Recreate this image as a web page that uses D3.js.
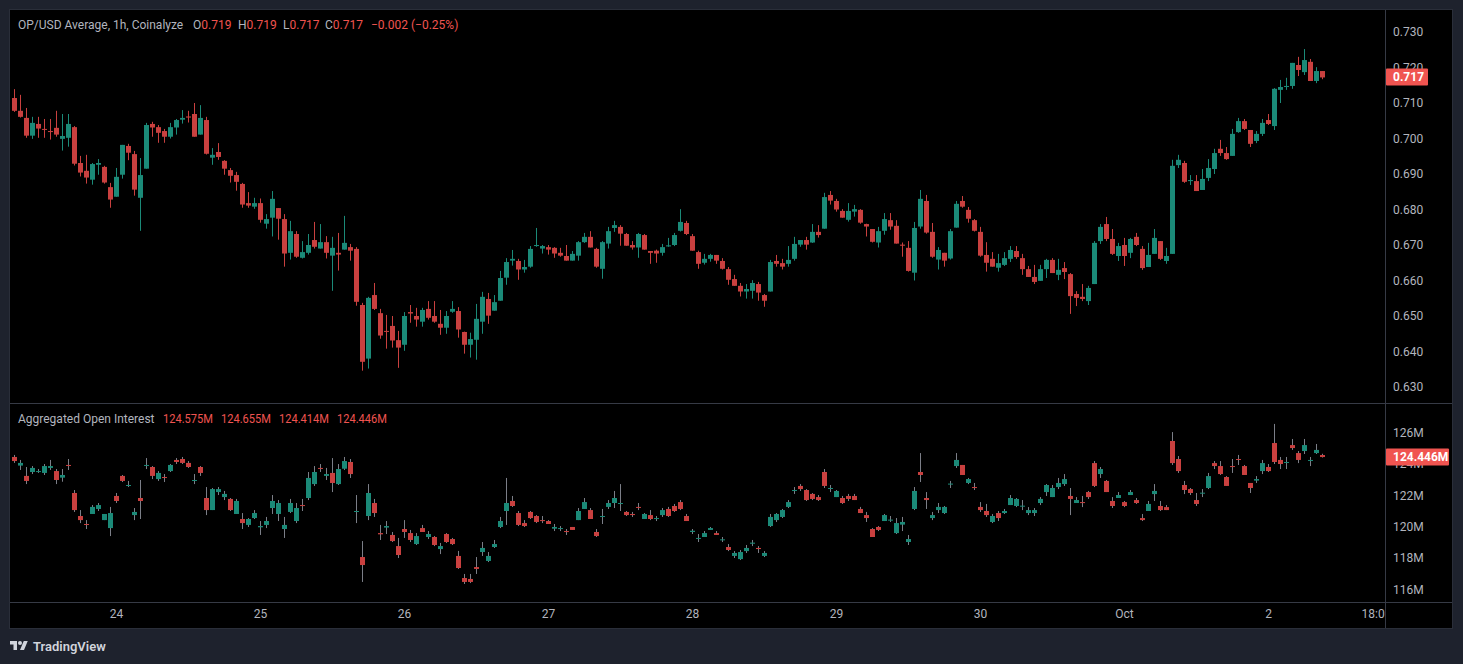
<!DOCTYPE html>
<html>
<head>
<meta charset="utf-8">
<script src="https://cdn.jsdelivr.net/npm/d3@7"></script>
<style>
  html, body { margin: 0; padding: 0; background: #1e222d; overflow: hidden; }
  svg { display: block; font-family: Roboto, "Noto Sans", sans-serif; }
</style>
</head>
<body>
<svg id="chart"></svg>
<script>
// OP/USD hourly candles [open, high, low, close], from Sep 23 07:00
const priceBars = [
  [.7114,.7139,.7075,.7078],[.7078,.7123,.7059,.7061],[.7058,.7086,.7002,.7008],[.7008,.7061,.6999,.7044],
  [.7041,.7061,.7002,.7028],[.7027,.7055,.7002,.7025],[.7021,.7055,.6997,.7019],[.7030,.7078,.7005,.7011],
  [.6999,.7069,.6966,.7007],[.7002,.7069,.6977,.7041],[.7032,.7035,.6924,.6929],[.6931,.6951,.6893,.6904],
  [.6909,.6954,.6873,.6890],[.6884,.6931,.6870,.6928],[.6926,.6942,.6898,.6931],[.6920,.6923,.6873,.6876],
  [.6863,.6875,.6805,.6828],[.6836,.6917,.6836,.6892],[.6898,.6982,.6887,.6982],[.6979,.6985,.6939,.6960],
  [.6956,.6965,.6839,.6856],[.6833,.6945,.6740,.6897],[.6915,.7044,.6915,.7038],[.7041,.7047,.7005,.7031],
  [.7032,.7038,.6988,.7016],[.7021,.7027,.6988,.7005],[.7005,.7044,.7000,.7032],[.7031,.7055,.7011,.7052],
  [.7053,.7080,.7042,.7058],[.7062,.7078,.7045,.7059],[.7069,.7100,.7005,.7005],[.7011,.7094,.7011,.7058],
  [.7052,.7061,.6955,.6957],[.6946,.6973,.6926,.6954],[.6962,.6987,.6940,.6948],[.6937,.6939,.6898,.6915],
  [.6911,.6917,.6876,.6895],[.6897,.6906,.6853,.6878],[.6872,.6875,.6805,.6814],[.6818,.6849,.6805,.6811],
  [.6808,.6833,.6802,.6818],[.6818,.6831,.6763,.6771],[.6760,.6787,.6746,.6773],[.6777,.6852,.6724,.6830],
  [.6804,.6804,.6715,.6774],[.6773,.6787,.6639,.6676],[.6678,.6768,.6659,.6739],[.6731,.6739,.6664,.6667],
  [.6664,.6711,.6662,.6680],[.6678,.6731,.6673,.6700],[.6714,.6765,.6690,.6695],[.6690,.6759,.6690,.6708],
  [.6708,.6725,.6662,.6678],[.6670,.6723,.6571,.6692],[.6678,.6734,.6628,.6673],[.6687,.6782,.6687,.6706],
  [.6694,.6703,.6656,.6684],[.6689,.6694,.6529,.6540],[.6531,.6537,.6346,.6371],[.6380,.6554,.6352,.6551],
  [.6559,.6593,.6517,.6520],[.6508,.6520,.6436,.6445],[.6458,.6503,.6408,.6456],[.6472,.6500,.6411,.6431],
  [.6432,.6458,.6354,.6411],[.6419,.6511,.6402,.6500],[.6511,.6531,.6481,.6507],[.6500,.6523,.6470,.6490],
  [.6484,.6523,.6470,.6517],[.6520,.6542,.6490,.6495],[.6500,.6542,.6481,.6484],[.6478,.6517,.6447,.6467],
  [.6467,.6514,.6450,.6500],[.6512,.6542,.6509,.6520],[.6514,.6525,.6439,.6462],[.6455,.6456,.6394,.6419],
  [.6419,.6453,.6383,.6435],[.6433,.6534,.6377,.6492],[.6484,.6568,.6450,.6554],[.6548,.6565,.6478,.6501],
  [.6515,.6559,.6515,.6539],[.6543,.6627,.6543,.6607],[.6608,.6663,.6588,.6652],[.6656,.6686,.6642,.6661],
  [.6655,.6661,.6602,.6631],[.6631,.6658,.6622,.6638],[.6639,.6697,.6636,.6689],[.6697,.6748,.6695,.6700],
  [.6690,.6700,.6676,.6697],[.6694,.6700,.6673,.6687],[.6692,.6694,.6664,.6676],[.6678,.6692,.6667,.6670],
  [.6669,.6700,.6656,.6656],[.6656,.6683,.6656,.6675],[.6670,.6711,.6656,.6708],[.6708,.6734,.6706,.6723],
  [.6723,.6739,.6693,.6693],[.6689,.6692,.6636,.6639],[.6633,.6711,.6605,.6708],[.6704,.6751,.6690,.6739],
  [.6748,.6768,.6737,.6756],[.6751,.6756,.6698,.6732],[.6731,.6734,.6698,.6698],[.6700,.6711,.6687,.6693],
  [.6693,.6734,.6664,.6731],[.6728,.6731,.6687,.6687],[.6683,.6683,.6647,.6678],[.6684,.6687,.6650,.6676],
  [.6678,.6703,.6670,.6694],[.6696,.6720,.6695,.6699],[.6700,.6734,.6697,.6728],[.6740,.6801,.6738,.6765],
  [.6762,.6768,.6728,.6731],[.6725,.6731,.6684,.6684],[.6680,.6684,.6633,.6647],[.6650,.6675,.6645,.6661],
  [.6661,.6675,.6653,.6672],[.6672,.6672,.6647,.6656],[.6655,.6663,.6631,.6633],[.6632,.6638,.6588,.6602],
  [.6604,.6616,.6585,.6585],[.6585,.6593,.6555,.6569],[.6569,.6590,.6549,.6576],[.6571,.6601,.6549,.6593],
  [.6590,.6596,.6543,.6566],[.6559,.6562,.6526,.6543],[.6569,.6658,.6569,.6652],[.6655,.6672,.6639,.6647],
  [.6649,.6661,.6631,.6639],[.6647,.6697,.6639,.6658],[.6661,.6723,.6656,.6703],[.6701,.6714,.6695,.6714],
  [.6714,.6723,.6687,.6701],[.6707,.6759,.6706,.6737],[.6737,.6756,.6721,.6728],[.6746,.6847,.6746,.6835],
  [.6841,.6852,.6814,.6825],[.6824,.6830,.6794,.6800],[.6796,.6801,.6777,.6777],[.6771,.6818,.6766,.6796],
  [.6794,.6813,.6780,.6801],[.6799,.6801,.6760,.6763],[.6759,.6760,.6724,.6752],[.6745,.6745,.6707,.6709],
  [.6707,.6751,.6693,.6739],[.6740,.6790,.6729,.6773],[.6770,.6790,.6743,.6752],[.6754,.6770,.6704,.6704],
  [.6701,.6707,.6667,.6698],[.6692,.6711,.6625,.6627],[.6622,.6765,.6600,.6748],[.6752,.6855,.6746,.6830],
  [.6824,.6841,.6732,.6735],[.6737,.6762,.6664,.6667],[.6659,.6694,.6631,.6686],[.6678,.6678,.6639,.6656],
  [.6662,.6745,.6659,.6739],[.6749,.6824,.6749,.6816],[.6824,.6838,.6805,.6808],[.6799,.6807,.6763,.6774],
  [.6770,.6773,.6738,.6740],[.6737,.6751,.6667,.6670],[.6672,.6708,.6625,.6650],[.6661,.6680,.6639,.6639],
  [.6636,.6675,.6625,.6649],[.6644,.6680,.6641,.6663],[.6661,.6697,.6652,.6686],[.6683,.6697,.6661,.6666],
  [.6663,.6675,.6616,.6632],[.6632,.6641,.6610,.6610],[.6610,.6644,.6590,.6596],[.6599,.6644,.6599,.6632],
  [.6632,.6661,.6607,.6658],[.6658,.6663,.6621,.6621],[.6616,.6661,.6601,.6630],[.6635,.6652,.6604,.6624],
  [.6618,.6621,.6506,.6556],[.6562,.6570,.6528,.6551],[.6554,.6590,.6542,.6548],[.6542,.6585,.6531,.6579],
  [.6590,.6711,.6590,.6706],[.6711,.6759,.6703,.6751],[.6759,.6779,.6711,.6717],[.6717,.6745,.6672,.6675],
  [.6669,.6706,.6655,.6697],[.6700,.6720,.6641,.6669],[.6678,.6720,.6663,.6717],[.6723,.6734,.6697,.6700],
  [.6689,.6697,.6630,.6635],[.6638,.6706,.6638,.6672],[.6675,.6745,.6675,.6720],[.6711,.6711,.6658,.6661],
  [.6655,.6692,.6647,.6669],[.6675,.6940,.6675,.6923],[.6925,.6954,.6917,.6940],[.6931,.6937,.6875,.6878],
  [.6880,.6897,.6869,.6883],[.6880,.6897,.6852,.6852],[.6855,.6914,.6855,.6886],[.6889,.6942,.6880,.6917],
  [.6914,.6971,.6900,.6959],[.6971,.6996,.6951,.6959],[.6959,.6976,.6940,.6942],[.6951,.7027,.6951,.7013],
  [.7018,.7058,.7016,.7049],[.7049,.7055,.7024,.7027],[.7024,.7024,.6976,.6985],[.6993,.7021,.6987,.7013],
  [.7013,.7055,.7007,.7044],[.7052,.7069,.7038,.7041],[.7035,.7142,.7024,.7140],[.7137,.7165,.7100,.7145],
  [.7145,.7171,.7137,.7148],[.7148,.7213,.7140,.7213],[.7207,.7230,.7176,.7193],[.7187,.7252,.7179,.7221],
  [.7216,.7224,.7162,.7162],[.7162,.7201,.7156,.7190],[.7190,.7190,.7167,.7172]
];

// Aggregated open interest candles in millions [open, high, low, close]
const oiBars = [
  [124.45,124.58,124.07,124.19],[123.90,124.26,123.62,124.07],[123.24,123.81,122.72,122.92],[123.49,123.87,123.36,123.75],
  [123.49,123.68,123.43,123.55],[123.43,124.00,123.30,123.87],[123.75,124.26,123.62,123.87],[123.55,123.68,122.72,122.98],
  [123.13,123.68,122.87,123.30],[123.94,124.32,123.62,123.90],[122.15,122.34,120.94,121.06],[120.68,121.06,120.23,120.42],
  [120.17,120.42,119.85,120.13],[120.81,121.38,120.81,121.26],[121.13,121.51,121.00,121.38],[120.42,120.81,120.42,120.81],
  [119.91,121.26,119.40,120.87],[121.96,122.15,121.51,121.64],[123.24,123.30,122.85,122.92],[122.62,122.92,122.53,122.66],
  [120.74,121.19,120.42,120.94],[121.83,122.98,120.49,121.64],[123.90,124.38,123.68,123.94],[123.81,123.87,123.04,123.24],
  [123.04,123.55,122.92,123.43],[123.17,123.36,122.85,123.13],[123.55,124.00,123.49,123.94],[124.26,124.38,124.00,124.13],
  [124.32,124.45,124.00,124.07],[124.07,124.19,123.75,123.81],[122.94,123.36,122.72,122.98],[123.81,123.87,123.24,123.43],
  [121.83,122.53,120.74,121.06],[121.06,122.47,121.06,122.40],[122.21,122.53,122.02,122.40],[121.89,122.28,121.70,122.09],
  [121.77,121.83,121.00,121.06],[120.81,121.77,120.81,121.64],[120.49,120.87,119.85,120.23],[120.11,120.55,119.98,120.49],
  [120.55,121.06,120.49,120.87],[119.96,120.36,119.47,120.04],[120.11,120.62,119.91,120.36],[121.19,122.02,120.81,121.64],
  [120.81,121.70,120.36,121.51],[119.85,120.62,119.28,120.11],[120.94,121.77,120.87,121.51],[120.36,121.51,120.23,121.19],
  [121.38,121.77,121.00,121.34],[121.83,123.49,121.70,123.11],[122.72,123.87,122.60,123.49],[123.75,124.00,123.49,123.70],
  [123.24,123.75,122.98,123.36],[123.43,124.38,122.21,122.79],[122.72,124.00,122.66,123.68],[123.70,124.45,123.62,124.19],
  [124.13,124.32,123.11,123.36],[120.96,122.02,120.23,121.00],[118.06,119.08,116.47,117.55],[120.68,122.72,120.42,122.15],
  [121.51,121.77,120.62,120.87],[119.59,120.11,119.15,119.51],[119.94,120.36,119.53,120.04],[119.47,119.66,119.02,119.08],
  [118.76,119.28,118.00,118.19],[119.85,120.42,119.28,119.66],[119.59,119.79,119.02,119.15],[118.89,119.59,118.83,119.40],
  [119.91,120.11,119.66,119.66],[119.34,119.72,119.21,119.53],[119.34,119.40,118.76,118.83],[118.57,118.96,118.25,118.76],
  [119.53,119.59,118.96,119.02],[119.21,119.28,118.83,118.89],[118.13,118.45,117.30,117.36],[116.72,116.98,116.34,116.47],
  [116.66,116.98,116.40,116.47],[117.42,118.06,116.98,117.30],[118.38,119.02,118.13,118.64],[117.81,118.38,117.74,118.13],
  [118.70,119.15,118.64,118.89],[119.98,120.62,119.91,120.36],[121.00,123.11,120.11,121.51],[121.64,121.96,121.26,121.32],
  [120.87,121.00,120.04,120.11],[120.23,120.42,119.98,120.04],[120.94,121.00,120.49,120.55],[120.68,120.74,120.23,120.30],
  [120.42,120.68,120.23,120.36],[120.36,120.42,120.17,120.17],[119.87,120.17,119.72,119.98],[119.85,120.04,119.72,119.91],
  [119.72,119.85,119.47,119.66],[119.98,119.98,119.79,119.79],[120.42,121.19,120.42,121.00],[121.13,121.83,121.13,121.57],
  [121.06,121.19,120.49,120.49],[119.66,119.85,119.34,119.40],[120.64,121.13,120.17,120.68],[121.26,121.70,121.13,121.51],
  [121.51,122.28,121.19,121.83],[121.47,122.72,121.00,121.51],[120.94,121.00,120.68,120.74],[120.81,120.94,120.62,120.74],
  [121.26,121.51,121.06,121.21],[120.49,120.87,120.49,120.81],[120.74,121.06,120.42,120.49],[120.49,120.68,120.36,120.55],
  [120.74,121.19,120.62,121.06],[121.13,121.26,120.62,120.68],[121.32,121.45,120.94,121.00],[121.57,121.70,121.06,121.13],
  [120.68,120.81,120.36,120.36],[119.66,119.85,119.53,119.74],[119.23,119.53,119.02,119.28],[119.34,119.72,119.34,119.59],
  [119.79,119.98,119.79,119.91],[119.59,119.72,119.47,119.47],[119.15,119.34,119.02,119.19],[118.70,118.89,118.44,118.51],
  [118.13,118.44,118.00,118.32],[117.93,118.51,117.87,118.38],[118.44,118.83,118.32,118.64],[118.91,119.15,118.76,118.98],
  [118.64,118.76,118.32,118.57],[118.13,118.44,118.06,118.32],[120.04,120.81,119.98,120.62],[120.42,120.87,120.30,120.81],
  [120.62,121.13,120.55,121.06],[121.26,121.70,121.19,121.57],[122.30,122.53,122.09,122.34],[122.60,122.72,122.28,122.40],
  [122.34,122.40,121.64,121.70],[122.09,122.15,121.70,121.77],[121.89,122.02,121.64,121.70],[123.49,123.68,122.47,122.60],
  [122.43,122.66,122.21,122.47],[121.89,122.34,121.89,122.28],[121.83,121.96,121.45,121.51],[121.96,122.09,121.64,121.77],
  [121.96,122.09,121.70,121.70],[121.13,121.26,120.87,120.87],[120.74,120.94,120.30,120.55],[119.85,119.91,119.34,119.34],
  [119.98,120.04,119.72,119.79],[120.36,120.81,120.36,120.74],[120.40,120.68,120.30,120.45],[119.59,120.55,119.53,120.23],
  [120.13,120.62,119.72,120.30],[119.02,119.47,118.83,119.21],[121.13,122.53,121.06,122.28],[123.49,124.70,122.85,123.30],
  [121.83,122.21,121.13,121.70],[120.55,120.94,120.42,120.74],[121.06,121.51,120.87,121.26],[120.87,121.32,120.81,121.26],
  [122.70,122.92,122.47,122.75],[123.87,124.70,123.75,124.26],[123.94,123.94,123.30,123.30],[122.79,123.11,122.72,123.04],
  [122.53,122.79,122.34,122.47],[121.26,121.57,120.94,121.06],[121.00,121.45,120.62,120.74],[120.30,120.81,120.23,120.68],
  [120.87,121.00,120.36,120.55],[120.87,121.13,120.81,121.00],[121.38,122.02,121.38,121.83],[121.32,121.83,121.25,121.77],
  [121.30,121.70,121.06,121.34],[120.87,121.25,120.74,121.06],[120.87,121.19,120.68,121.06],[121.51,121.89,121.38,121.77],
  [122.21,122.72,121.96,122.66],[121.89,122.66,121.89,122.47],[122.53,123.11,122.40,122.79],[122.72,123.36,122.60,123.04],
  [121.96,122.47,120.74,121.77],[121.51,121.89,121.51,121.70],[121.57,121.96,121.25,121.53],[122.21,122.28,121.77,121.89],
  [124.06,124.19,122.53,122.60],[123.36,123.81,123.11,123.68],[122.92,122.98,122.21,122.21],[121.64,121.89,121.19,121.32],
  [121.83,122.21,121.83,122.02],[121.57,121.64,121.25,121.32],[122.02,122.34,122.02,122.21],[121.70,121.83,121.45,121.51],
  [120.55,120.81,120.36,120.42],[121.00,121.64,121.00,121.45],[122.08,122.72,121.64,122.28],[121.32,121.64,121.00,121.06],
  [121.25,121.38,121.06,121.06],[125.47,126.04,123.94,124.06],[124.32,124.51,123.43,123.55],[122.66,122.92,122.08,122.34],
  [122.40,122.47,122.02,122.15],[121.70,122.15,121.32,121.45],[122.11,122.40,121.89,122.17],[122.47,123.43,122.40,123.23],
  [124.06,124.19,123.68,123.87],[123.87,124.19,123.30,123.36],[123.17,123.23,122.60,122.60],[123.87,124.32,123.43,123.81],
  [124.32,124.58,123.94,124.26],[123.87,123.94,123.30,123.30],[122.79,122.79,122.15,122.47],[122.94,123.23,122.79,123.04],
  [123.55,124.26,123.36,124.06],[123.81,124.00,123.49,123.55],[125.34,126.56,124.00,124.13],[124.26,124.45,123.68,124.00],
  [124.09,124.45,123.68,124.13],[125.21,125.60,124.90,125.02],[124.70,124.83,124.06,124.26],[124.83,125.60,124.64,125.21],
  [124.21,124.45,123.87,124.26],[124.70,125.28,124.64,124.90],[124.575,124.655,124.414,124.446]
];

const priceTicks = [0.63, 0.64, 0.65, 0.66, 0.67, 0.68, 0.69, 0.70, 0.71, 0.72, 0.73];
const oiTicks = [116, 118, 120, 122, 124, 126];
const timeTicks = [
  Date.UTC(2022, 8, 24), Date.UTC(2022, 8, 25), Date.UTC(2022, 8, 26), Date.UTC(2022, 8, 27),
  Date.UTC(2022, 8, 28), Date.UTC(2022, 8, 29), Date.UTC(2022, 8, 30), Date.UTC(2022, 9, 1),
  Date.UTC(2022, 9, 2), Date.UTC(2022, 9, 2, 18)
];
const firstBarTime = Date.UTC(2022, 8, 23, 7);

const upColor = "#1b8a78", downColor = "#c9403f", tagColor = "#f05450";
const textColor = "#b2b5be", lineColor = "#363a45";

const W = 1463, H = 664;
const frame = { left: 10, top: 10, right: 1452, bottom: 628 };
const axisX = 1385, paneSplit = 403, timeAxisY = 602;

const svg = d3.select("#chart").attr("width", W).attr("height", H);

// frame background
svg.append("rect").attr("width", W).attr("height", H).attr("fill", "#1e222d");
svg.append("rect")
  .attr("x", frame.left - 0.5).attr("y", frame.top - 0.5)
  .attr("width", frame.right - frame.left + 1).attr("height", frame.bottom - frame.top + 1)
  .attr("fill", "#000").attr("stroke", "#2a2e39");

const defs = svg.append("defs");
defs.append("clipPath").attr("id", "clipPrice").append("rect")
  .attr("x", frame.left).attr("y", frame.top).attr("width", axisX - frame.left).attr("height", paneSplit - frame.top);
defs.append("clipPath").attr("id", "clipOi").append("rect")
  .attr("x", frame.left).attr("y", paneSplit).attr("width", axisX - frame.left).attr("height", timeAxisY - paneSplit);
defs.append("clipPath").attr("id", "clipTime").append("rect")
  .attr("x", frame.left).attr("y", timeAxisY).attr("width", axisX - frame.left).attr("height", frame.bottom - timeAxisY);

// scales
const x = d3.scaleUtc()
  .domain([new Date(timeTicks[0]), new Date(timeTicks[8])])
  .range([116, 1268]);
const yPrice = d3.scaleLinear().domain([0.63, 0.73]).range([387, 32]);
const yOi = d3.scaleLinear().domain([116, 126]).range([589.3, 432.7]);

const barX = i => Math.round(x(new Date(firstBarTime + i * 3600e3)));

function drawCandles(clipId, bars, y, wickColor) {
  const g = svg.append("g").attr("clip-path", `url(#${clipId})`);
  const bar = g.selectAll("g").data(bars).join("g");
  bar.append("rect") // wick
    .attr("x", (d, i) => barX(i))
    .attr("width", 1)
    .attr("y", d => y(d[1]))
    .attr("height", d => Math.max(1, y(d[2]) - y(d[1])))
    .attr("fill", d => wickColor || (d[3] >= d[0] ? upColor : downColor));
  bar.append("rect") // body
    .attr("x", (d, i) => barX(i) - 2)
    .attr("width", 5)
    .attr("y", d => y(Math.max(d[0], d[3])))
    .attr("height", d => Math.max(1, Math.abs(y(d[0]) - y(d[3]))))
    .attr("fill", d => d[3] >= d[0] ? upColor : downColor);
}

drawCandles("clipPrice", priceBars, yPrice, null);
drawCandles("clipOi", oiBars, yOi, "#7b7e87");

// separators
svg.append("line").attr("x1", axisX + 0.5).attr("x2", axisX + 0.5)
  .attr("y1", frame.top).attr("y2", frame.bottom).attr("stroke", lineColor);
svg.append("line").attr("x1", frame.left).attr("x2", frame.right)
  .attr("y1", paneSplit + 0.5).attr("y2", paneSplit + 0.5).attr("stroke", lineColor);
svg.append("line").attr("x1", frame.left).attr("x2", frame.right)
  .attr("y1", timeAxisY + 0.5).attr("y2", timeAxisY + 0.5).attr("stroke", lineColor);

// price axis
const priceAxis = svg.append("g").attr("transform", `translate(${axisX},0)`)
  .call(d3.axisRight(yPrice).tickValues(priceTicks).tickFormat(d3.format(".3f")).tickSize(0).tickPadding(8));
priceAxis.select(".domain").remove();
priceAxis.selectAll("text").attr("fill", textColor).attr("font-size", 12).attr("font-family", "Roboto, sans-serif");

const oiAxis = svg.append("g").attr("transform", `translate(${axisX},0)`)
  .call(d3.axisRight(yOi).tickValues(oiTicks).tickFormat(d => d + "M").tickSize(0).tickPadding(8));
oiAxis.select(".domain").remove();
oiAxis.selectAll("text").attr("fill", textColor).attr("font-size", 12).attr("font-family", "Roboto, sans-serif");

// time axis
const timeFmt = d => {
  if (d.getUTCHours() !== 0) return d3.utcFormat("%H:%M")(d);
  if (d.getUTCDate() === 1) return d3.utcFormat("%b")(d);
  return d3.utcFormat("%-d")(d);
};
const timeAxis = svg.append("g").attr("clip-path", "url(#clipTime)")
  .append("g").attr("transform", `translate(0,${timeAxisY})`)
  .call(d3.axisBottom(x).tickValues(timeTicks.map(t => new Date(t))).tickFormat(timeFmt).tickSize(0).tickPadding(7));
timeAxis.select(".domain").remove();
timeAxis.selectAll("text").attr("fill", textColor).attr("font-size", 12).attr("font-family", "Roboto, sans-serif");

// last value tags (drawn over the axis label behind them, as in the original)
const lastP = priceBars[priceBars.length - 1];
const lastO = oiBars[oiBars.length - 1];
function tag(yv, label, w) {
  const g = svg.append("g").attr("transform", `translate(${axisX + 1},${Math.round(yv)})`);
  g.append("rect").attr("x", 0).attr("y", -8.5).attr("width", w).attr("height", 17).attr("rx", 1).attr("fill", tagColor);
  g.append("text").attr("x", 7).attr("y", 0).attr("dy", "0.35em")
    .attr("fill", "#fff").attr("font-size", 12).attr("font-weight", 700).text(label);
}
tag(yPrice(lastP[3]), d3.format(".3f")(lastP[3]), 42);
tag(yOi(lastO[3]), d3.format(".3f")(lastO[3]) + "M", 63);

// legends
const prevClose = priceBars[priceBars.length - 2][3];
const chg = lastP[3] - prevClose;
const f3 = d3.format(".3f");
const red = "#f05450";

const legend = svg.append("text").attr("y", 25).attr("dy", "0.35em")
  .attr("font-size", 12).attr("fill", textColor);
legend.append("tspan").attr("x", 18).text("OP/USD Average, 1h, Coinalyze");
const legendX = [193, 238, 283, 325];
[["O", lastP[0]], ["H", lastP[1]], ["L", lastP[2]], ["C", lastP[3]]].forEach(([k, v], i) => {
  legend.append("tspan").attr("x", legendX[i]).text(k);
  legend.append("tspan").attr("fill", red).text(f3(v));
});
legend.append("tspan").attr("x", 371).attr("fill", red)
  .text(`${f3(chg)} (${d3.format(".2f")(chg / prevClose * 100)}%)`);

const oiLegend = svg.append("text").attr("y", 418.5).attr("dy", "0.35em")
  .attr("font-size", 12).attr("fill", textColor);
oiLegend.append("tspan").attr("x", 18).text("Aggregated Open Interest");
const oiLegendX = [163, 221, 279, 337];
lastO.forEach((v, i) => oiLegend.append("tspan").attr("x", oiLegendX[i]).attr("fill", red)
  .attr("textLength", 50).attr("lengthAdjust", "spacingAndGlyphs").text(f3(v) + "M"));

// footer logo
const logo = svg.append("g").attr("transform", "translate(10,639) scale(0.5)").attr("fill", "#d1d4dc");
logo.append("path").attr("d", "M14 22H7V11H0V4h14v18zM28 22h-8l7.5-18h8L28 22z");
logo.append("circle").attr("cx", 20).attr("cy", 8).attr("r", 4);
svg.append("text").attr("x", 33).attr("y", 646).attr("dy", "0.35em")
  .attr("font-size", 13).attr("font-weight", 600).attr("fill", "#d1d4dc").text("TradingView");
</script>
</body>
</html>
